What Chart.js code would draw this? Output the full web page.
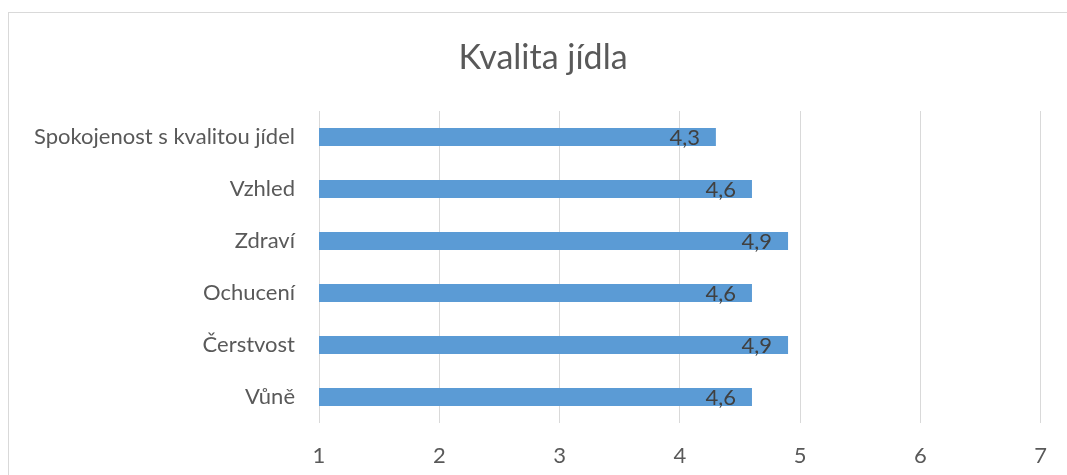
<!DOCTYPE html>
<html lang="cs">
<head>
<meta charset="utf-8">
<title>Kvalita jídla</title>
<script src="https://cdn.jsdelivr.net/npm/chart.js@4.4.1/dist/chart.umd.min.js"></script>
<style>
  html, body { margin: 0; padding: 0; background: #ffffff; overflow: hidden; }
  #wrap { position: relative; width: 1067px; height: 475px; }
  #frame {
    position: absolute; left: 8px; top: 12px; width: 1200px; height: 600px;
    border: 1px solid #d9d9d9; box-sizing: border-box;
  }
  #chart { position: absolute; left: 0; top: 0; }
</style>
</head>
<body>
<div id="wrap">
  <div id="frame"></div>
  <canvas id="chart" width="1067" height="475"></canvas>
</div>
<script>
// Hodnocení kvality jídla (průměrné známky)
const chartTitle = 'Kvalita jídla';
const categories = [
  'Spokojenost s kvalitou jídel',
  'Vzhled',
  'Zdraví',
  'Ochucení',
  'Čerstvost',
  'Vůně'
];
const scores = [4.3, 4.6, 4.9, 4.6, 4.9, 4.6];
const axisTicks = [1, 2, 3, 4, 5, 6, 7];

const FONT = 'Lato, "Open Sans", "DejaVu Sans", sans-serif';
const TEXT = '#595959';
const GRID = '#d9d9d9';
const BAR = '#5b9bd5';

const fmt = v => v.toFixed(1).replace('.', ',');

// Nadpis vystředěný na celý rámeček grafu (nejen na oblast pruhů)
const frameTitle = {
  id: 'frameTitle',
  afterDraw(chart, args, opts) {
    const ctx = chart.ctx;
    ctx.save();
    ctx.font = '400 34px ' + FONT;
    ctx.fillStyle = TEXT;
    ctx.textAlign = 'center';
    ctx.textBaseline = 'middle';
    ctx.fillText(opts.text, opts.x, opts.y);
    ctx.restore();
  }
};

// Popisky hodnot uvnitř konce každého pruhu
const valueLabels = {
  id: 'valueLabels',
  afterDatasetsDraw(chart) {
    const ctx = chart.ctx;
    const meta = chart.getDatasetMeta(0);
    const data = chart.data.datasets[0].data;
    ctx.save();
    ctx.font = '22px ' + FONT;
    ctx.fillStyle = '#404040';
    ctx.textAlign = 'right';
    ctx.textBaseline = 'middle';
    meta.data.forEach((bar, i) => {
      ctx.fillText(fmt(data[i]), bar.x - 16, bar.y + 1);
    });
    ctx.restore();
  }
};

new Chart(document.getElementById('chart'), {
  type: 'bar',
  data: {
    labels: categories,
    datasets: [{
      data: scores,
      backgroundColor: BAR,
      borderWidth: 0,
      barPercentage: 0.35,
      categoryPercentage: 1.0
    }]
  },
  options: {
    indexAxis: 'y',
    responsive: false,
    animation: false,
    devicePixelRatio: 1,
    layout: { padding: { left: 8, right: 24, top: 111, bottom: 0 } },
    plugins: {
      legend: { display: false },
      tooltip: { enabled: false },
      title: { display: false },
      frameTitle: { text: chartTitle, x: 543, y: 58 }
    },
    scales: {
      x: {
        type: 'linear',
        min: axisTicks[0],
        max: axisTicks[axisTicks.length - 1],
        afterBuildTicks(scale) {
          scale.ticks = axisTicks.map(v => ({ value: v }));
        },
        afterFit(scale) { scale.height = 52; },
        ticks: {
          color: TEXT,
          font: { family: FONT, size: 22 },
          padding: 20,
          callback: v => String(v)
        },
        grid: { color: GRID, lineWidth: 1, drawTicks: false },
        border: { display: false }
      },
      y: {
        afterFit(scale) { scale.width = 311; },
        ticks: {
          color: TEXT,
          font: { family: FONT, size: 22 },
          padding: 24
        },
        grid: { display: false, drawTicks: false },
        border: { display: false }
      }
    }
  },
  plugins: [valueLabels, frameTitle]
});
</script>
</body>
</html>
